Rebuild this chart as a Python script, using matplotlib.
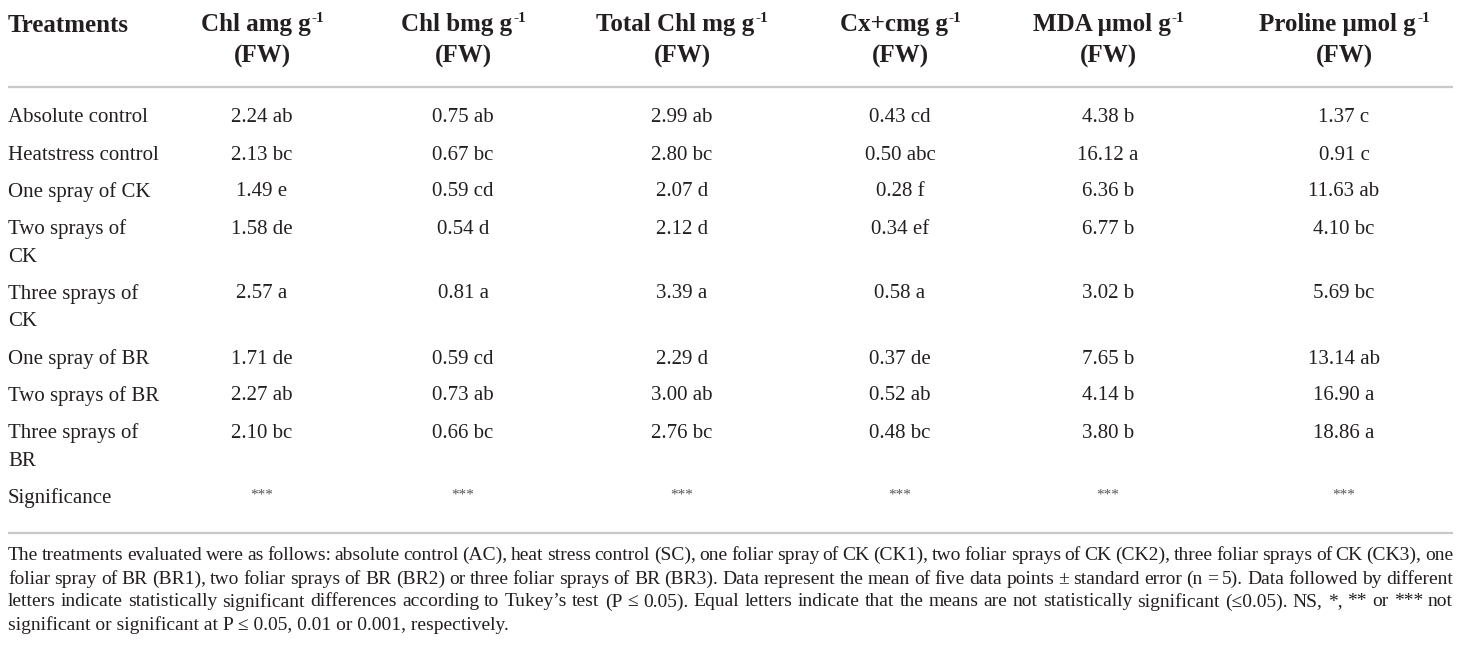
import numpy as np
import matplotlib.pyplot as plt

plt.rcParams['font.family'] = ['Liberation Serif', 'DejaVu Serif']

# table content
treatments = ["Absolute control", "Heatstress control", "One spray of CK",
              "Two sprays of\nCK", "Three sprays of\nCK", "One spray of BR",
              "Two sprays of BR", "Three sprays of\nBR"]
headers = ["Chl amg g", "Chl bmg g", "Total Chl mg g",
           "Cx+cmg g", "MDA μmol g", "Proline μmol g"]

chl_a = [2.24, 2.13, 1.49, 1.58, 2.57, 1.71, 2.27, 2.10]
chl_a_let = ["ab", "bc", "e", "de", "a", "de", "ab", "bc"]
chl_b = [0.75, 0.67, 0.59, 0.54, 0.81, 0.59, 0.73, 0.66]
chl_b_let = ["ab", "bc", "cd", "d", "a", "cd", "ab", "bc"]
total_chl = [2.99, 2.80, 2.07, 2.12, 3.39, 2.29, 3.00, 2.76]
total_chl_let = ["ab", "bc", "d", "d", "a", "d", "ab", "bc"]
cxc = [0.43, 0.50, 0.28, 0.34, 0.58, 0.37, 0.52, 0.48]
cxc_let = ["cd", "abc", "f", "ef", "a", "de", "ab", "bc"]
mda = [4.38, 16.12, 6.36, 6.77, 3.02, 7.65, 4.14, 3.80]
mda_let = ["b", "a", "b", "b", "b", "b", "b", "b"]
proline = [1.37, 0.91, 11.63, 4.10, 5.69, 13.14, 16.90, 18.86]
proline_let = ["c", "c", "ab", "bc", "bc", "ab", "a", "a"]
significance = ["***"] * 6

footnote = [
    "The treatments evaluated were as follows: absolute control (AC), heat stress control (SC), one foliar spray of CK (CK1), two foliar sprays of CK (CK2), three foliar sprays of CK (CK3), one",
    "foliar spray of BR (BR1), two foliar sprays of BR (BR2) or three foliar sprays of BR (BR3). Data represent the mean of five data points \u00b1 standard error (n = 5). Data followed by different",
    "letters indicate statistically significant differences according to Tukey\u2019s test (P \u2264 0.05). Equal letters indicate that the means are not statistically significant (\u22640.05). NS, *, ** or *** not",
    "significant or significant at P \u2264 0.05, 0.01 or 0.001, respectively.",
]

values = [chl_a, chl_b, total_chl, cxc, mda, proline]
letters = [chl_a_let, chl_b_let, total_chl_let, cxc_let, mda_let, proline_let]

txt = '#231f20'
rule_col = '#c8c8c8'
col_x = [262, 463, 682, 900, 1108, 1344]
left, right = 8, 1453
head_fs, body_fs, foot_fs = 18, 15, 14

fig = plt.figure(figsize=(14.6, 6.5), dpi=100)
ax = fig.add_axes([0, 0, 1, 1])
ax.set_xlim(0, 1460)
ax.set_ylim(650, 0)
ax.axis('off')
renderer = fig.canvas.get_renderer()


def width_of(s, **kw):
    t = ax.text(0, 0, s, **kw)
    w = t.get_window_extent(renderer).width
    t.remove()
    return w


# header
ax.text(left, 25, "Treatments", fontsize=head_fs, fontweight='bold', color=txt,
        ha='left', va='center')
for x, h in zip(col_x, headers):
    w1 = width_of(h, fontsize=head_fs, fontweight='bold')
    w2 = width_of("-1", fontsize=11, fontweight='bold')
    x0 = x - (w1 + w2) / 2
    ax.text(x0, 25, h, fontsize=head_fs, fontweight='bold', color=txt,
            ha='left', va='center')
    ax.text(x0 + w1 + 1, 18, "-1", fontsize=11, fontweight='bold', color=txt,
            ha='left', va='center')
    ax.text(x, 56, "(FW)", fontsize=head_fs, fontweight='bold', color=txt,
            ha='center', va='center')

ax.plot([left, right], [87, 87], color=rule_col, lw=1.6, solid_capstyle='butt')

# body rows
y = 118
for i, name in enumerate(treatments):
    lines = name.split("\n")
    for k, ln in enumerate(lines):
        ax.text(left, y + k * 28, ln, fontsize=body_fs, color=txt, ha='left', va='center')
    for j, x in enumerate(col_x):
        ax.text(x, y, f"{values[j][i]:.2f} {letters[j][i]}", fontsize=body_fs,
                color=txt, ha='center', va='center')
    y += 37 + 28 * (len(lines) - 1)

ax.text(left, y, "Significance", fontsize=body_fs, color=txt, ha='left', va='center')
for x, s in zip(col_x, significance):
    ax.text(x, y - 3, s, fontsize=11, color='#555555', ha='center', va='center')

ax.plot([left, right], [533, 533], color=rule_col, lw=1.6, solid_capstyle='butt')

# footnote, justified except the last line
foot_y = [555, 579, 602, 625]
for n, (line, fy) in enumerate(zip(footnote, foot_y)):
    if n == len(footnote) - 1:
        ax.text(left, fy, line, fontsize=foot_fs, color=txt, ha='left', va='center')
        continue
    words = line.split(" ")
    widths = [width_of(w, fontsize=foot_fs) for w in words]
    gap = (right - left - sum(widths)) / (len(words) - 1)
    x = left
    for w, wd in zip(words, widths):
        ax.text(x, fy, w, fontsize=foot_fs, color=txt, ha='left', va='center')
        x += wd + gap

fig.savefig('out.png', dpi=100)
